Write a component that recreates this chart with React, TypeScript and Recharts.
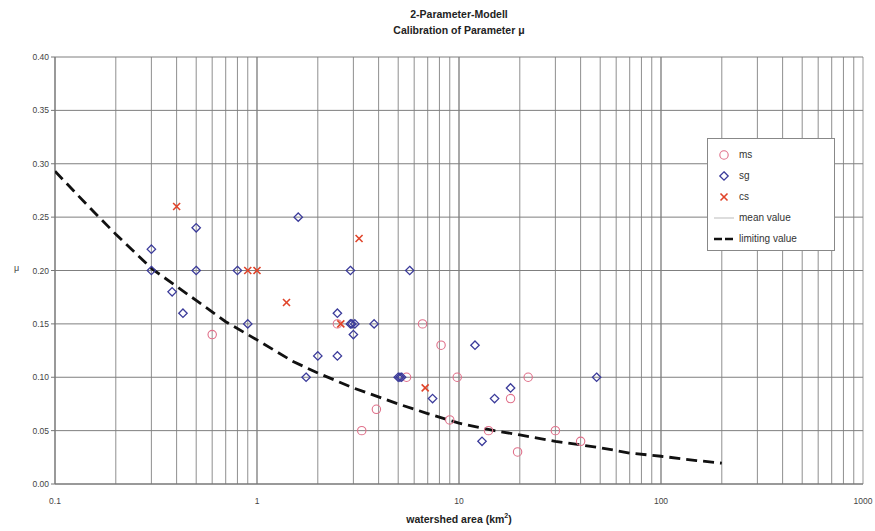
import React from 'react';
import { ComposedChart, Scatter, XAxis, YAxis, ReferenceLine } from 'recharts';

// ---- data ----
const msPoints = [
  { x: 0.6, y: 0.14 }, { x: 2.5, y: 0.15 }, { x: 6.6, y: 0.15 }, { x: 8.15, y: 0.13 },
  { x: 5.5, y: 0.1 }, { x: 9.8, y: 0.1 }, { x: 22, y: 0.1 }, { x: 18, y: 0.08 },
  { x: 3.9, y: 0.07 }, { x: 3.3, y: 0.05 }, { x: 9.0, y: 0.06 }, { x: 14, y: 0.05 },
  { x: 19.5, y: 0.03 }, { x: 30, y: 0.05 }, { x: 40, y: 0.04 },
];
const sgPoints = [
  { x: 0.3, y: 0.22 }, { x: 0.3, y: 0.2 }, { x: 0.5, y: 0.24 }, { x: 0.5, y: 0.2 },
  { x: 0.38, y: 0.18 }, { x: 0.43, y: 0.16 }, { x: 0.8, y: 0.2 }, { x: 0.9, y: 0.15 },
  { x: 1.6, y: 0.25 }, { x: 1.75, y: 0.1 }, { x: 2.0, y: 0.12 }, { x: 2.5, y: 0.16 },
  { x: 2.5, y: 0.12 }, { x: 2.9, y: 0.2 }, { x: 2.9, y: 0.15 }, { x: 2.95, y: 0.15 },
  { x: 3.05, y: 0.15 }, { x: 3.0, y: 0.14 }, { x: 3.8, y: 0.15 }, { x: 5.7, y: 0.2 },
  { x: 5.0, y: 0.1 }, { x: 5.1, y: 0.1 }, { x: 5.2, y: 0.1 }, { x: 7.4, y: 0.08 },
  { x: 12, y: 0.13 }, { x: 13, y: 0.04 }, { x: 15, y: 0.08 }, { x: 18, y: 0.09 },
  { x: 48, y: 0.1 },
];
const csPoints = [
  { x: 0.4, y: 0.26 }, { x: 0.9, y: 0.2 }, { x: 1.0, y: 0.2 }, { x: 1.4, y: 0.17 },
  { x: 2.6, y: 0.15 }, { x: 3.2, y: 0.23 }, { x: 6.8, y: 0.09 },
];
const limitX = [0.1, 0.15, 0.2, 0.3, 0.5, 0.7, 1, 1.5, 2, 3, 5, 7, 10, 15, 20, 30, 50, 70, 100, 150, 200];
const limitY = [0.293, 0.258, 0.234, 0.202, 0.172, 0.152, 0.135, 0.115, 0.104, 0.09, 0.075, 0.066, 0.057, 0.05, 0.046, 0.04, 0.034, 0.029, 0.026, 0.022, 0.0195];
const xTicks = [0.1, 1, 10, 100, 1000];
const yTicks = [0, 0.05, 0.1, 0.15, 0.2, 0.25, 0.3, 0.35, 0.4];
const legendLabels = ['ms', 'sg', 'cs', 'mean value', 'limiting value'];

const limitPoints = limitX.map((x, i) => ({ x, y: limitY[i] }));
const minorX: number[] = [];
[0.1, 1, 10, 100].forEach((d) => {
  for (let k = 2; k <= 9; k++) minorX.push(+(d * k).toPrecision(3));
});
const majorX = [1, 10, 100];

const MS_COLOR = '#e0708a';
const SG_COLOR = '#3b3b9a';
const CS_COLOR = '#e0442a';
const FONT = '"Liberation Sans", Arial, sans-serif';

const CircleShape = (p: any) => (
  <circle cx={p.cx} cy={p.cy} r={4.2} fill="none" stroke={MS_COLOR} strokeWidth={1.1} />
);
const DiamondShape = (p: any) => {
  const s = 4.2;
  return (
    <polygon
      points={`${p.cx},${p.cy - s} ${p.cx + s},${p.cy} ${p.cx},${p.cy + s} ${p.cx - s},${p.cy}`}
      fill="none"
      stroke={SG_COLOR}
      strokeWidth={1.3}
    />
  );
};
const CrossShape = (p: any) => {
  const s = 3.5;
  return (
    <g stroke={CS_COLOR} strokeWidth={1.6}>
      <line x1={p.cx - s} y1={p.cy - s} x2={p.cx + s} y2={p.cy + s} />
      <line x1={p.cx - s} y1={p.cy + s} x2={p.cx + s} y2={p.cy - s} />
    </g>
  );
};
const NoShape = () => <g />;

const LegendBox = () => {
  const rowH = 21;
  const icons = [
    <svg width={20} height={12}><circle cx={10} cy={6} r={4.2} fill="none" stroke={MS_COLOR} strokeWidth={1.1} /></svg>,
    <svg width={20} height={12}><polygon points="10,1.8 14.2,6 10,10.2 5.8,6" fill="none" stroke={SG_COLOR} strokeWidth={1.3} /></svg>,
    <svg width={20} height={12}><g stroke={CS_COLOR} strokeWidth={1.6}><line x1={6.5} y1={2.5} x2={13.5} y2={9.5} /><line x1={6.5} y1={9.5} x2={13.5} y2={2.5} /></g></svg>,
    <svg width={20} height={12}><line x1={0} y1={6} x2={20} y2={6} stroke="#bbbbbb" strokeWidth={1} /></svg>,
    <svg width={20} height={12}><line x1={0} y1={6} x2={20} y2={6} stroke="#111" strokeWidth={2.6} strokeDasharray="8 3" /></svg>,
  ];
  return (
    <div
      style={{
        position: 'absolute', left: 707, top: 138, width: 128, height: 113,
        background: '#fff', border: '1px solid #888', boxSizing: 'border-box',
        fontFamily: FONT, fontSize: 10, color: '#333', paddingTop: 5,
      }}
    >
      {legendLabels.map((l, i) => (
        <div key={l} style={{ height: rowH, display: 'flex', alignItems: 'center' }}>
          <div style={{ width: 31, display: 'flex', justifyContent: 'center' }}>{icons[i]}</div>
          <span>{l}</span>
        </div>
      ))}
    </div>
  );
};

export default function App() {
  return (
    <div style={{ position: 'absolute', left: 0, top: 0, width: 875, height: 531, background: '#fff' }}>
      <ComposedChart width={875} height={531} margin={{ top: 57, right: 12, left: 0, bottom: 0 }}>
        <XAxis
          dataKey="x"
          type="number"
          scale="log"
          domain={[0.1, 1000]}
          ticks={xTicks}
          allowDataOverflow
          height={47}
          tickLine={false}
          axisLine={{ stroke: '#777', strokeWidth: 1.5 }}
          tick={{ fontSize: 8.5, fill: '#444', fontFamily: FONT }}
          tickFormatter={(v: number) => String(v)}
          tickMargin={8}
        />
        <YAxis
          dataKey="y"
          type="number"
          domain={[0, 0.4]}
          ticks={yTicks}
          width={55}
          tickSize={4}
          tickLine={{ stroke: '#777' }}
          axisLine={{ stroke: '#777', strokeWidth: 1.5 }}
          tick={{ fontSize: 8.5, fill: '#444', fontFamily: FONT }}
          tickFormatter={(v: number) => v.toFixed(2)}
        />
        {minorX.map((v) => (
          <ReferenceLine key={'mx' + v} x={v} stroke="#8f8f8f" strokeWidth={1} />
        ))}
        {majorX.map((v) => (
          <ReferenceLine key={'Mx' + v} x={v} stroke="#6f6f6f" strokeWidth={1.2} />
        ))}
        <ReferenceLine x={1000} stroke="#999" strokeWidth={1} />
        {yTicks.slice(1).map((v) => (
          <ReferenceLine key={'y' + v} y={v} stroke="#7f7f7f" strokeWidth={1} />
        ))}
        <Scatter
          data={limitPoints}
          shape={NoShape}
          line={{ stroke: '#111', strokeWidth: 2.8, strokeDasharray: '11 6' }}
          lineType="joint"
          isAnimationActive={false}
        />
        <Scatter data={msPoints} shape={CircleShape} isAnimationActive={false} />
        <Scatter data={sgPoints} shape={DiamondShape} isAnimationActive={false} />
        <Scatter data={csPoints} shape={CrossShape} isAnimationActive={false} />
      </ComposedChart>
      <LegendBox />
      <div style={{ position: 'absolute', left: 0, width: 918, top: 6, textAlign: 'center', fontFamily: FONT, fontWeight: 'bold', fontSize: 10.5, color: '#222', lineHeight: '16px' }}>
        <div>2-Parameter-Modell</div>
        <div>Calibration of Parameter μ</div>
      </div>
      <div style={{ position: 'absolute', left: 0, width: 918, top: 512, textAlign: 'center', fontFamily: FONT, fontWeight: 'bold', fontSize: 10.5, color: '#222' }}>
        watershed area (km<sup style={{ fontSize: 7 }}>2</sup>)
      </div>
      <div style={{ position: 'absolute', left: 14, top: 263, fontFamily: FONT, fontSize: 9, color: '#444' }}>μ</div>
    </div>
  );
}
